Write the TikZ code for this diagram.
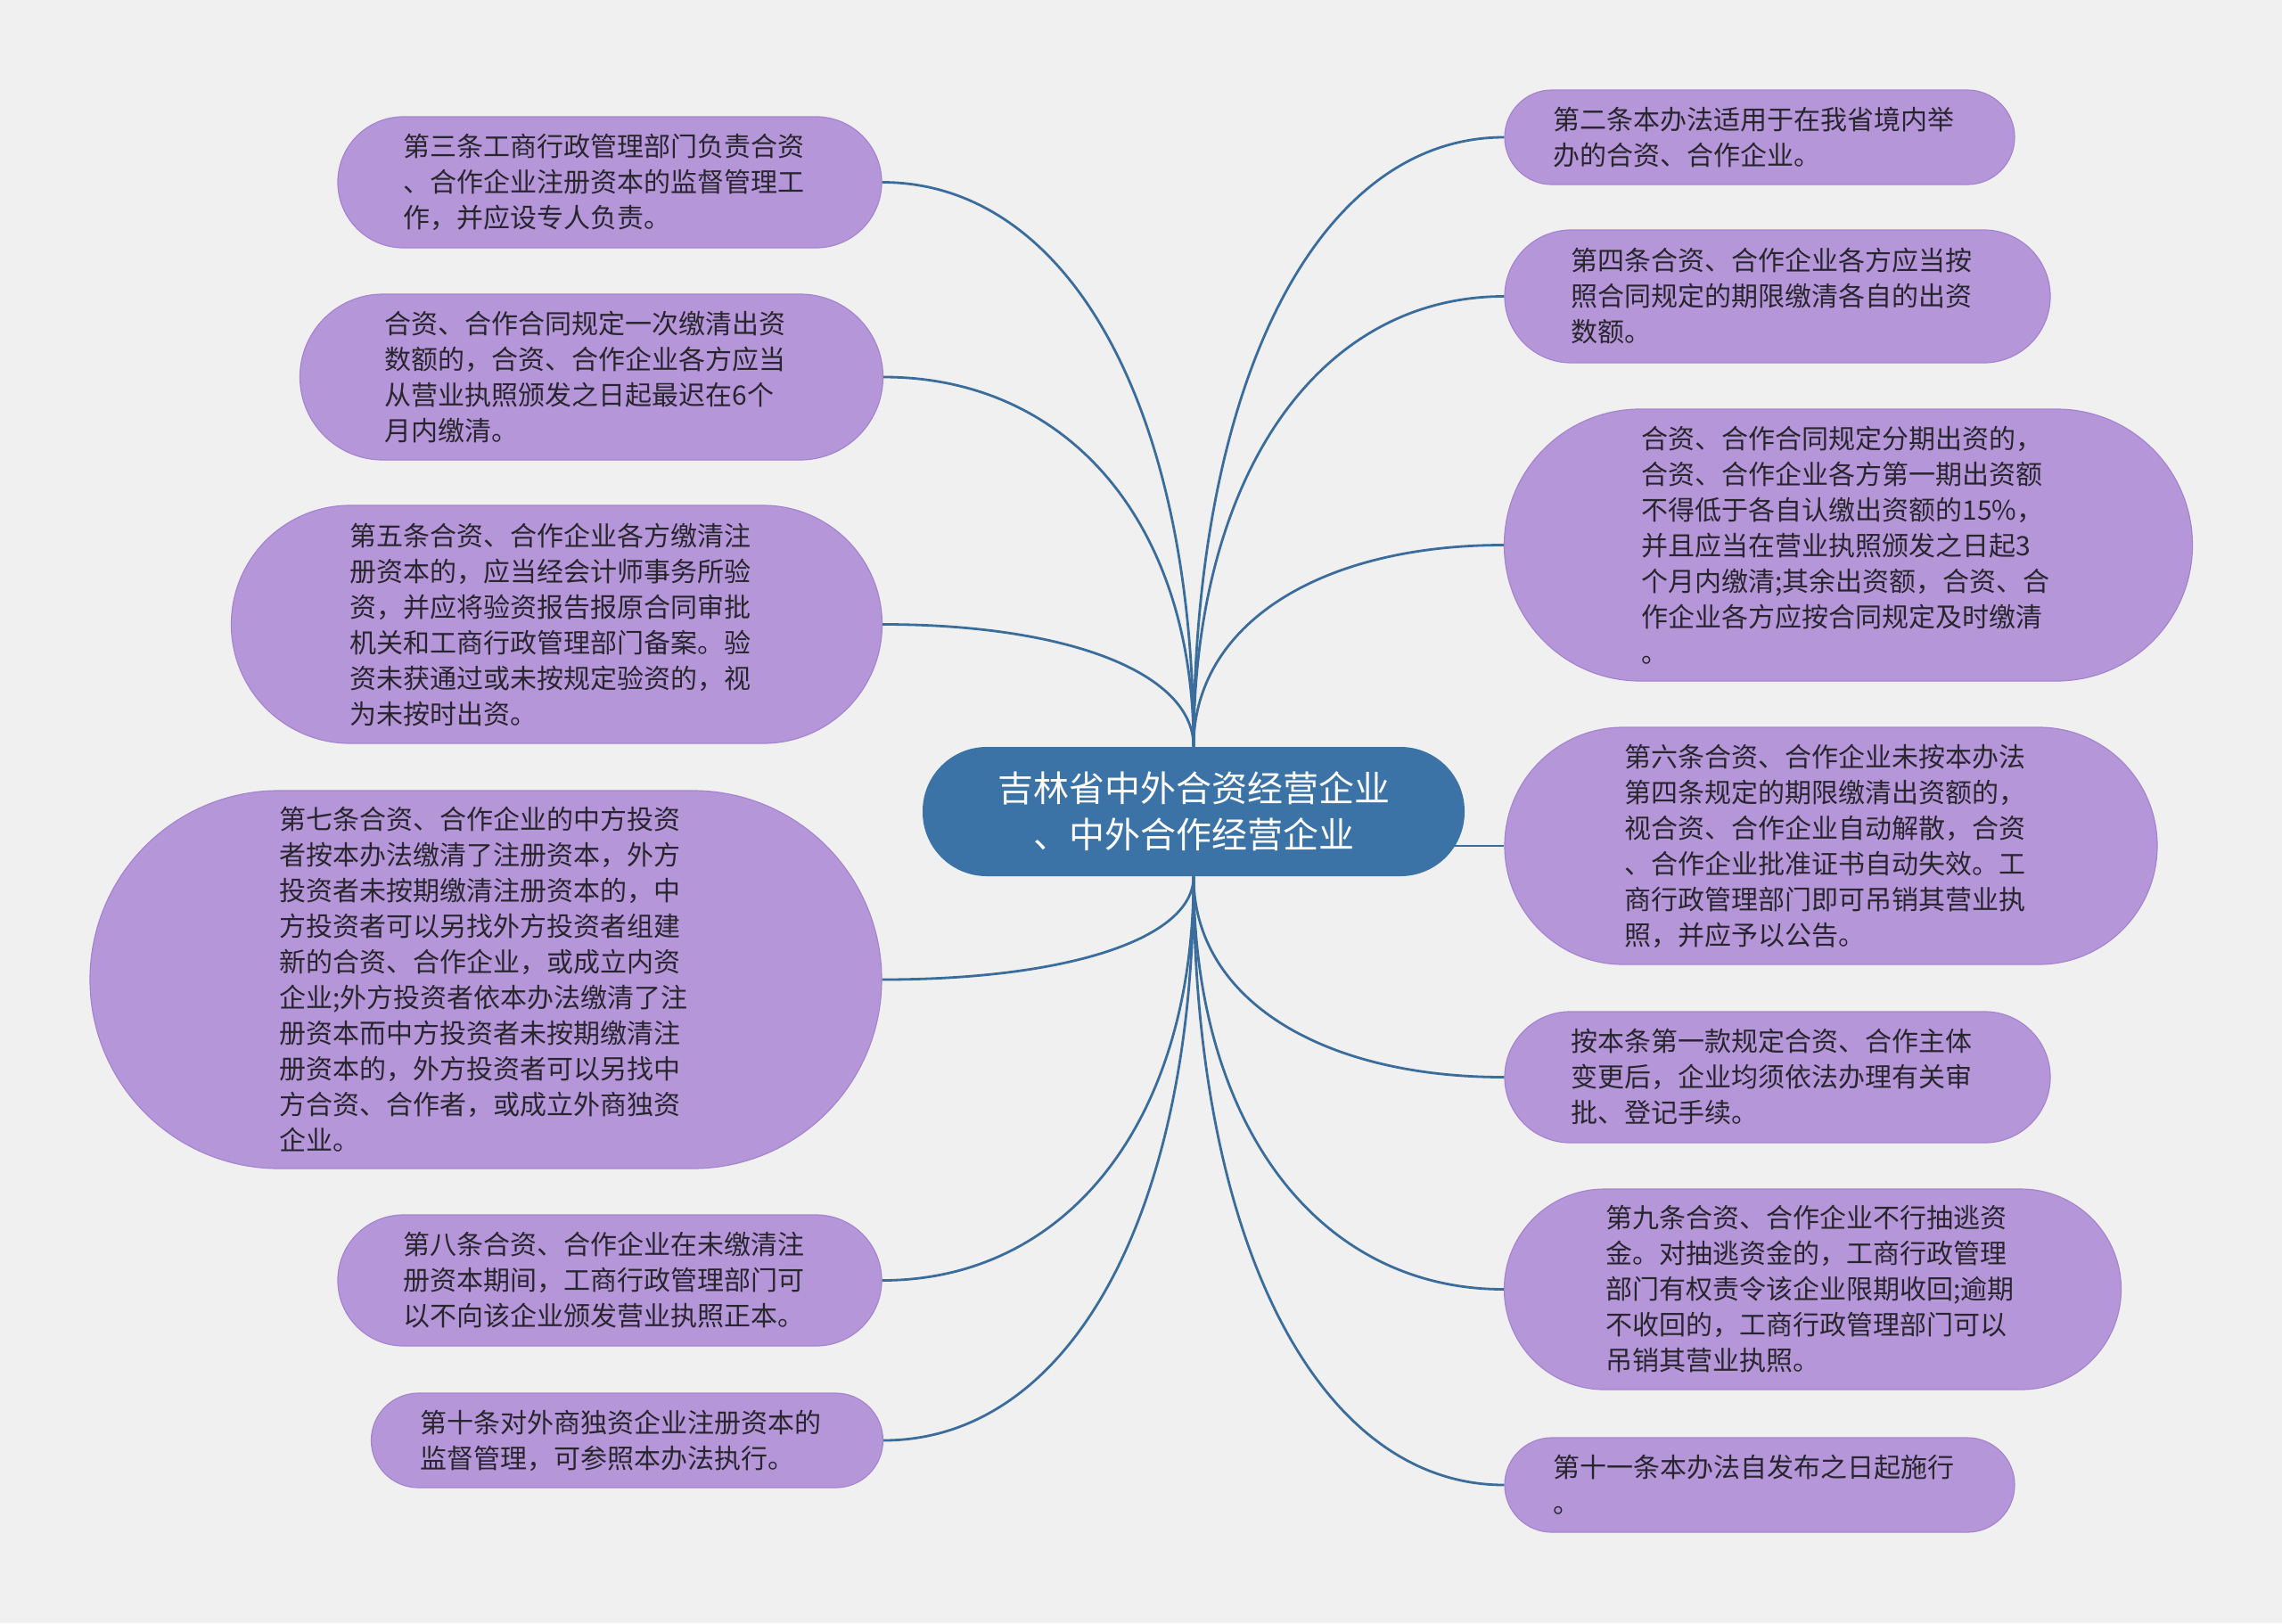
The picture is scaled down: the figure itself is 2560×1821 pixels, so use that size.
\documentclass[tikz,border=0pt]{standalone}
\usepackage{fontspec}
\setmainfont{Noto Sans CJK SC}
\usepackage{xcolor}
\usepackage{tikz}
\usetikzlibrary{calc}

\definecolor{bgcol}{HTML}{F0F0F0}
\definecolor{leaffill}{HTML}{B597D9}
\definecolor{leafedge}{HTML}{A584CF}
\definecolor{rootfill}{HTML}{3C73A6}
\definecolor{linkblue}{HTML}{3A6C9C}
\definecolor{inktext}{HTML}{29252E}

\begin{document}
\begin{tikzpicture}[x=0.5pt,y=-0.5pt,
  topic/.style={fill=rootfill, text=white, align=center, minimum width=304pt,
    minimum height=72.5pt, rounded corners=36pt, inner sep=0pt,
    font=\fontsize{20pt}{26pt}\selectfont},
  leaf/.style 2 args={fill=leaffill, draw=leafedge, line width=0.6pt, text=inktext,
    align=left, text width=232pt, inner ysep=0pt, inner xsep=#1,
    minimum height=#2, rounded corners=#2*0.5,
    font=\fontsize{15pt}{20pt}\selectfont},
  branch/.style={draw=linkblue, line width=1.4pt,
    to path={.. controls ($(\tikztostart)!0.6!(\tikztostart|-\tikztotarget)$)
      and ($(\tikztotarget)!0.6!(\tikztostart|-\tikztotarget)$) .. (\tikztotarget)}}]
  \fill[bgcol] (0,0) rectangle (2560,1821);

  \node[topic] (root) at (1339,910.5) {吉林省中外合资经营企业\\、中外合作经营企业};

  \node[leaf={36.5pt}{73.5pt}] (art3) at (684,204.5) {第三条工商行政管理部门负责合资\\、合作企业注册资本的监督管理工\\作，并应设专人负责。};
  \node[leaf={47.5pt}{93pt}] (lump) at (663.5,423) {合资、合作合同规定一次缴清出资\\数额的，合资、合作企业各方应当\\从营业执照颁发之日起最迟在6个\\月内缴清。};
  \node[leaf={66.5pt}{133.5pt}] (art5) at (624.5,700.5) {第五条合资、合作企业各方缴清注\\册资本的，应当经会计师事务所验\\资，并应将验资报告报原合同审批\\机关和工商行政管理部门备案。验\\资未获通过或未按规定验资的，视\\为未按时出资。};
  \node[leaf={106pt}{212pt}] (art7) at (545,1099) {第七条合资、合作企业的中方投资\\者按本办法缴清了注册资本，外方\\投资者未按期缴清注册资本的，中\\方投资者可以另找外方投资者组建\\新的合资、合作企业，或成立内资\\企业;外方投资者依本办法缴清了注\\册资本而中方投资者未按期缴清注\\册资本的，外方投资者可以另找中\\方合资、合作者，或成立外商独资\\企业。};
  \node[leaf={36.5pt}{73.5pt}] (art8) at (684,1436.5) {第八条合资、合作企业在未缴清注\\册资本期间，工商行政管理部门可\\以不向该企业颁发营业执照正本。};
  \node[leaf={27.5pt}{53pt}] (art10) at (703.5,1616) {第十条对外商独资企业注册资本的\\监督管理，可参照本办法执行。};

  \node[leaf={27pt}{53pt}] (art2) at (1974,154) {第二条本办法适用于在我省境内举\\办的合资、合作企业。};
  \node[leaf={37pt}{74.5pt}] (art4) at (1994,332.5) {第四条合资、合作企业各方应当按\\照合同规定的期限缴清各自的出资\\数额。};
  \node[leaf={77pt}{152.5pt}] (install) at (2073.5,611.5) {合资、合作合同规定分期出资的，\\合资、合作企业各方第一期出资额\\不得低于各自认缴出资额的15\%，\\并且应当在营业执照颁发之日起3\\个月内缴清;其余出资额，合资、合\\作企业各方应按合同规定及时缴清\\。};
  \node[leaf={67pt}{133pt}] (art6) at (2054,949) {第六条合资、合作企业未按本办法\\第四条规定的期限缴清出资额的，\\视合资、合作企业自动解散，合资\\、合作企业批准证书自动失效。工\\商行政管理部门即可吊销其营业执\\照，并应予以公告。};
  \node[leaf={37pt}{73.5pt}] (change) at (1994,1208.5) {按本条第一款规定合资、合作主体\\变更后，企业均须依法办理有关审\\批、登记手续。};
  \node[leaf={57pt}{112.5pt}] (art9) at (2033.5,1446.5) {第九条合资、合作企业不行抽逃资\\金。对抽逃资金的，工商行政管理\\部门有权责令该企业限期收回;逾期\\不收回的，工商行政管理部门可以\\吊销其营业执照。};
  \node[leaf={27pt}{53pt}] (art11) at (1974,1666) {第十一条本办法自发布之日起施行\\。};

  \draw[branch] (root.north) to (art3.east);
  \draw[branch] (root.north) to (lump.east);
  \draw[branch] (root.north) to (art5.east);
  \draw[branch] (root.north) to (art2.west);
  \draw[branch] (root.north) to (art4.west);
  \draw[branch] (root.north) to (install.west);
  \draw[branch] (root.south) to (art7.east);
  \draw[branch] (root.south) to (art8.east);
  \draw[branch] (root.south) to (art10.east);
  \draw[branch] (root.south) to (change.west);
  \draw[branch] (root.south) to (art9.west);
  \draw[branch] (root.south) to (art11.west);
  \path (root.east |- art6.west) ++(-12,0) coordinate (rootout);
  \draw[draw=linkblue, line width=1.4pt] (rootout) -- (art6.west);
\end{tikzpicture}
\end{document}
